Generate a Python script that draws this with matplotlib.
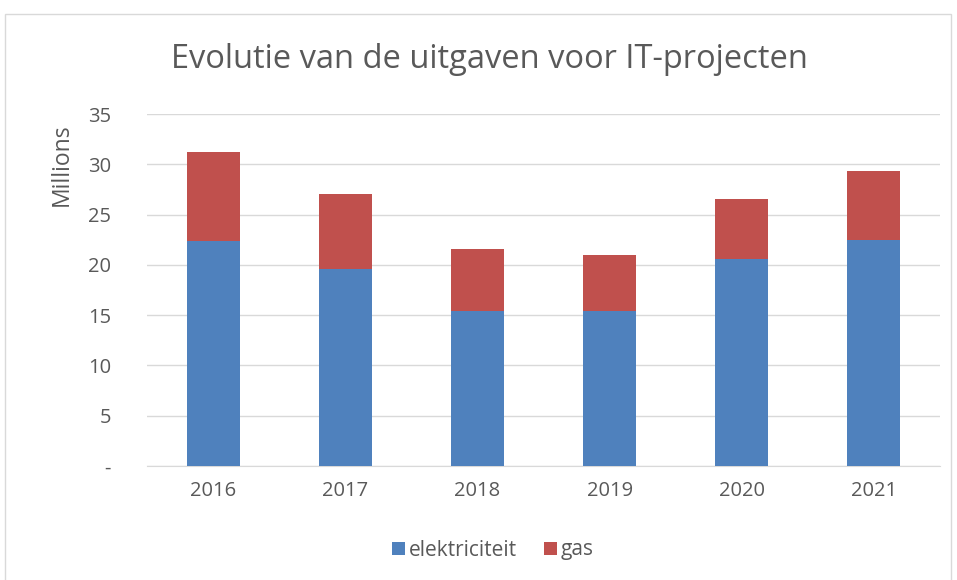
import matplotlib

matplotlib.use("Agg")
matplotlib.rcParams["font.family"] = ["Open Sans", "DejaVu Sans"]

import matplotlib.pyplot as plt
from matplotlib.patches import Rectangle

years = ["2016", "2017", "2018", "2019", "2020", "2021"]
elektriciteit = [22.35, 19.6, 15.4, 15.4, 20.55, 22.45]
gas = [8.9, 7.45, 6.15, 5.55, 5.95, 6.85]
yticks = [0, 5, 10, 15, 20, 25, 30, 35]
yticklabels = ["-", "5", "10", "15", "20", "25", "30", "35"]

text_col = "#595959"
blue = "#4F81BD"
red = "#C0504D"

fig = plt.figure(figsize=(9.57, 5.80), dpi=100)
fig.patches.append(Rectangle((5 / 957, -0.1), 946 / 957, 1 - 14 / 580 + 0.1,
                             transform=fig.transFigure, fill=False,
                             edgecolor="#D9D9D9", linewidth=1))

ax = fig.add_axes([147 / 957, 1 - 466 / 580, 793 / 957, 352 / 580])
x = range(len(years))
ax.bar(x, elektriciteit, width=0.4, color=blue, label="elektriciteit", zorder=3)
ax.bar(x, gas, width=0.4, bottom=elektriciteit, color=red, label="gas", zorder=3)

ax.set_xlim(-0.5, len(years) - 0.5)
ax.set_ylim(0, 35)
ax.set_yticks(yticks)
ax.set_yticklabels(yticklabels)
ax.set_xticks(list(x))
ax.set_xticklabels(years)
ax.tick_params(axis="both", length=0, labelsize=14.5, colors=text_col)
ax.tick_params(axis="y", pad=26)
ax.tick_params(axis="x", pad=11)
ax.grid(axis="y", color="#D9D9D9", linewidth=1, zorder=0)
for s in ["top", "right", "left"]:
    ax.spines[s].set_visible(False)
ax.spines["bottom"].set_color("#D9D9D9")

# Excel puts the units label at the top of the value axis
fig.text(62 / 957, 1 - 165 / 580, "Millions", rotation=90, ha="center", va="center",
         fontsize=16.5, color=text_col)

fig.text(489 / 957, 1 - 60 / 580, "Evolutie van de uitgaven voor IT-projecten",
         ha="center", va="center", fontsize=23.5, color=text_col)

leg = fig.legend(loc="center", bbox_to_anchor=(493 / 957, 1 - 550 / 580), ncol=2,
                 frameon=False, fontsize=15, handlelength=0.6, handleheight=0.6,
                 handletextpad=0.2, columnspacing=1.3)
for t in leg.get_texts():
    t.set_color(text_col)

fig.savefig("out.png", dpi=100)
